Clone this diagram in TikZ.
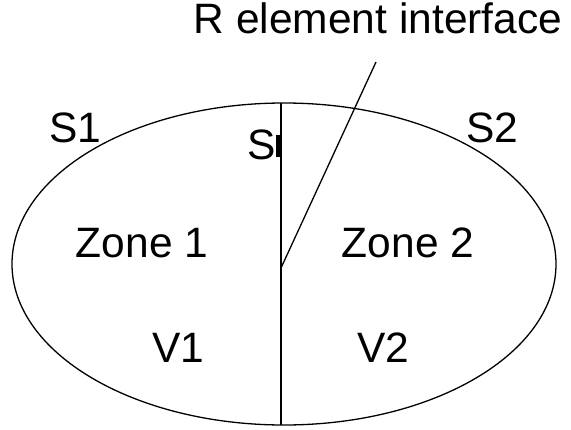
\documentclass[tikz,border=0pt]{standalone}
\usepackage{fontspec}
\setmainfont{Liberation Sans}
\begin{document}
\begin{tikzpicture}[x=1pt,y=-1pt,
  lbl/.style={inner sep=0pt,font=\fontsize{42.5}{42.5}\selectfont},
  edge/.style={line width=1.3pt,black}]
\useasboundingbox (0,0) rectangle (571,429);
% outer boundary of the two zones
\draw[edge] (284,264) ellipse [x radius=272,y radius=161];
% dividing interface
\coordinate (top) at (281,103);
\coordinate (bot) at (281,425);
\draw[edge] (top) -- (bot);
% leader to the interface label
\node[lbl,anchor=base] (R) at (378,33) {R element interface};
\coordinate (rfoot) at (281,268);
\coordinate (rhead) at (376,62);
\draw[edge] (rfoot) -- (rhead);
% labels
\node[lbl] (s1) at (75,128) {S1};
\node[lbl] (s2) at (492,128) {S2};
\node[lbl,anchor=east] (si) at (276,145) {S};
\draw[line width=4pt] (278,135) -- (278,157);
\node[lbl] (z1) at (142,243) {Zone 1};
\node[lbl] (z2) at (408,243) {Zone 2};
\node[lbl] (v1) at (178,348) {V1};
\node[lbl] (v2) at (383,348) {V2};
\end{tikzpicture}
\end{document}
